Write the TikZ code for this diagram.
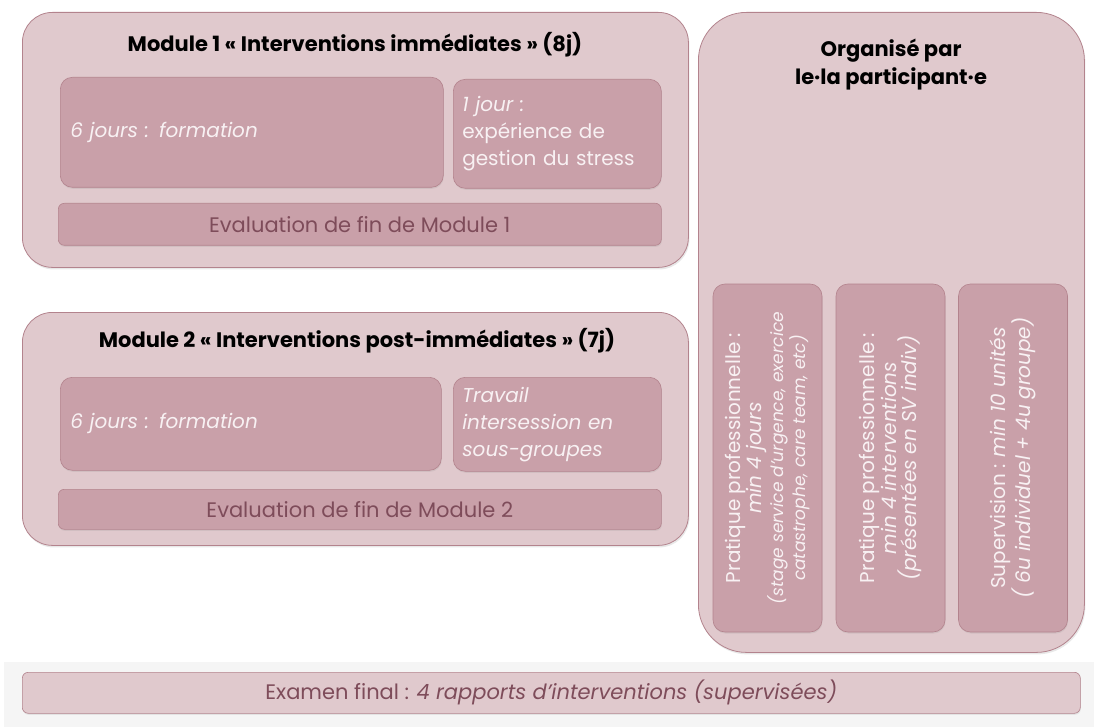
\documentclass[tikz,border=0pt]{standalone}
\usepackage{fontspec}
\setmainfont{Poppins}
\usetikzlibrary{shadows}
\definecolor{outerfill}{HTML}{E0C9CD}
\definecolor{innerfill}{HTML}{C9A0A9}
\definecolor{bord}{HTML}{B3838D}
\definecolor{darktxt}{HTML}{7E4C5A}
\definecolor{lighttxt}{HTML}{F8F1F3}
\definecolor{bottomgray}{HTML}{F5F5F5}
\begin{document}
\begin{tikzpicture}[x=1pt,y=-1pt,
  outerbox/.style={draw=bord, fill=outerfill, line width=0.8pt, anchor=north west, inner sep=0pt,
    drop shadow={opacity=0.18, shadow xshift=1pt, shadow yshift=-2pt}},
  innerbox/.style={draw=bord, fill=innerfill, line width=0.6pt, rounded corners=12pt, inner sep=0pt,
    drop shadow={opacity=0.15, shadow xshift=0.5pt, shadow yshift=-1.5pt}},
  evalbar/.style={innerbox, rounded corners=6pt, text=darktxt, font=\fontsize{21}{24}\selectfont},
  titletxt/.style={font=\bfseries\fontsize{21}{28}\selectfont, text=black, align=center},
  boxtxt/.style={text=lighttxt, font=\fontsize{20}{27}\selectfont},
  vtxt/.style={innerbox, rotate=90, minimum width=348pt, minimum height=109pt, text=lighttxt, align=center}
]
\useasboundingbox (0,0) rectangle (1094,727);
\fill[white] (0,0) rectangle (1094,727);
\fill[bottomgray] (4,662) rectangle (1094,727);

% Module 1
\node[outerbox, rounded corners=30pt, minimum width=666pt, minimum height=255pt] (m1) at (22,12) {};
\node[titletxt] (m1t) at (355,45) {Module 1 « Interventions immédiates » (8j)};
\node[innerbox, anchor=north west, minimum width=383pt, minimum height=110pt, text width=363pt,
  inner xsep=10pt, align=left, boxtxt] (m1a) at (60,77) {\itshape 6 jours : formation};
\node[innerbox, anchor=north west, minimum width=208pt, minimum height=109pt, text width=190pt,
  inner xsep=9pt, align=left, boxtxt] (m1b) at (453,79) {\itshape 1 jour :\\\upshape expérience de\\gestion du stress};
\node[evalbar, anchor=north west, minimum width=603pt, minimum height=42pt] (m1e) at (58,203) {Evaluation de fin de Module 1};

% Module 2
\node[outerbox, rounded corners=30pt, minimum width=666pt, minimum height=233pt] (m2) at (22,312) {};
\node[titletxt] (m2t) at (357,341) {Module 2 « Interventions post-immédiates » (7j)};
\node[innerbox, anchor=north west, minimum width=381pt, minimum height=93pt, text width=361pt,
  inner xsep=10pt, align=left, boxtxt] (m2a) at (60,377) {\itshape 6 jours : formation};
\node[innerbox, anchor=north west, minimum width=208pt, minimum height=94pt, text width=190pt,
  inner xsep=9pt, align=left, boxtxt] (m2b) at (453,377) {\itshape Travail\\intersession en\\sous-groupes};
\node[evalbar, anchor=north west, minimum width=603pt, minimum height=40pt] (m2e) at (58,489) {Evaluation de fin de Module 2};

% Right column
\node[outerbox, rounded corners=48pt, minimum width=386pt, minimum height=640pt] (org) at (698,12) {};
\node[titletxt] (orgt) at (891,65) {Organisé par\\le·la participant·e};

\node[vtxt] (p1) at (767.5,458) {\fontsize{20}{27}\selectfont Pratique professionnelle :\\
  \fontsize{20}{24}\selectfont\itshape min 4 jours\\
  \fontsize{17}{19}\selectfont\itshape (stage service d'urgence, exercice\\
  \fontsize{17}{19}\selectfont\itshape catastrophe,  care team, etc)};
\node[vtxt] (p2) at (890.5,458) {\fontsize{20}{28}\selectfont Pratique professionnelle :\\
  \fontsize{20}{28}\selectfont\itshape min 4 interventions\\
  \fontsize{20}{28}\selectfont\itshape (présentées en SV indiv)};
\node[vtxt] (p3) at (1013,458) {\fontsize{20}{27}\selectfont Supervision : \itshape min 10 unités\\
  \fontsize{20}{27}\selectfont\itshape ( 6u individuel + 4u groupe)};

% Final exam
\node[evalbar, anchor=north west, minimum width=1058pt, minimum height=41pt, fill=outerfill] (exam) at (22,672) {Examen final : \itshape 4 rapports d’interventions (supervisées)};
\end{tikzpicture}
\end{document}
